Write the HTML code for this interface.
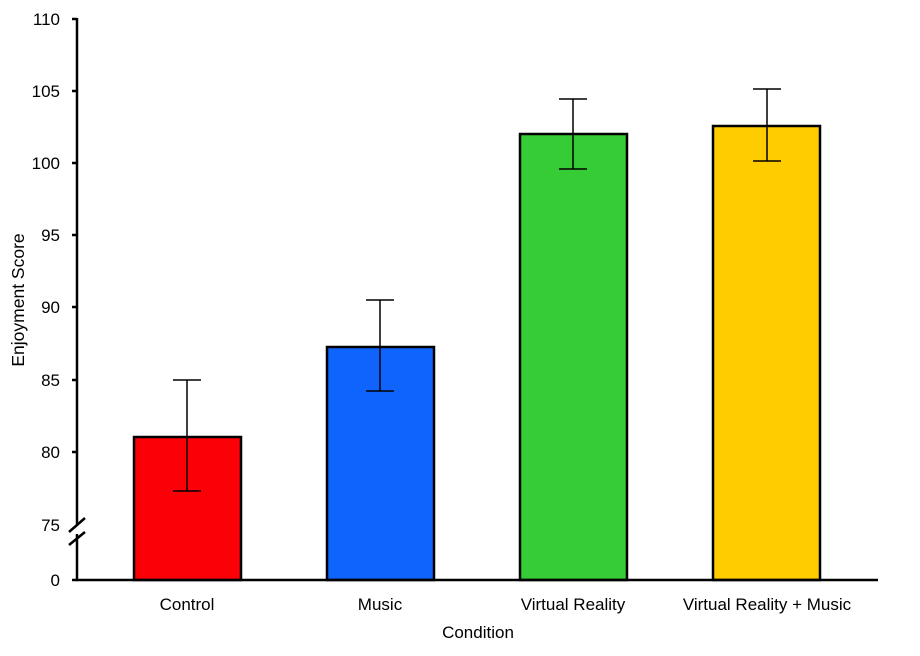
<!DOCTYPE html>
<html><head><style>body{margin:0;background:#fff}</style></head><body>
<svg width="920" height="651" xmlns="http://www.w3.org/2000/svg" font-family="Liberation Sans, Arial, sans-serif">
<rect width="920" height="651" fill="#fff"/>
<g stroke="#000" stroke-width="2.5">
<rect x="134" y="437" width="107" height="143" fill="#fb0007"/>
<rect x="327" y="347" width="107" height="233" fill="#0f64fd"/>
<rect x="520" y="134" width="107" height="446" fill="#36cc36"/>
<rect x="713" y="126" width="107" height="454" fill="#ffcc00"/>
</g>
<g stroke="#000" stroke-width="1.5">
<line x1="187" y1="380" x2="187" y2="491"/><line x1="173" y1="380" x2="201" y2="380"/><line x1="173" y1="491" x2="201" y2="491"/>
<line x1="380" y1="300" x2="380" y2="391"/><line x1="366" y1="300" x2="394" y2="300"/><line x1="366" y1="391" x2="394" y2="391"/>
<line x1="573" y1="99" x2="573" y2="169"/><line x1="559" y1="99" x2="587" y2="99"/><line x1="559" y1="169" x2="587" y2="169"/>
<line x1="767" y1="89" x2="767" y2="161"/><line x1="753" y1="89" x2="781" y2="89"/><line x1="753" y1="161" x2="781" y2="161"/>
</g>
<g stroke="#000" stroke-width="2.5">
<line x1="77" y1="18" x2="77" y2="524"/>
<line x1="77" y1="534" x2="77" y2="581"/>
<line x1="76" y1="580" x2="878" y2="580"/>
<line x1="72" y1="19" x2="77" y2="19"/><line x1="72" y1="91" x2="77" y2="91"/><line x1="72" y1="163" x2="77" y2="163"/>
<line x1="72" y1="235" x2="77" y2="235"/><line x1="72" y1="307" x2="77" y2="307"/><line x1="72" y1="380" x2="77" y2="380"/>
<line x1="72" y1="452" x2="77" y2="452"/><line x1="72" y1="580" x2="77" y2="580"/>
<line x1="69" y1="532" x2="85" y2="518"/><line x1="69" y1="545" x2="85" y2="532"/>
</g>
<g font-size="17" fill="#000" text-anchor="end">
<text x="60" y="25">110</text><text x="60" y="97">105</text><text x="60" y="169">100</text>
<text x="60" y="241">95</text><text x="60" y="313">90</text><text x="60" y="386">85</text>
<text x="60" y="458">80</text><text x="60" y="531">75</text><text x="60" y="586">0</text>
</g>
<g font-size="17" fill="#000" text-anchor="middle">
<text x="187" y="610">Control</text><text x="380" y="610">Music</text>
<text x="573" y="610">Virtual Reality</text><text x="767" y="610">Virtual Reality + Music</text>
<text x="478" y="638">Condition</text>
<text font-size="17.5" transform="translate(24,300) rotate(-90)">Enjoyment Score</text>
</g>
</svg>
</body></html>
